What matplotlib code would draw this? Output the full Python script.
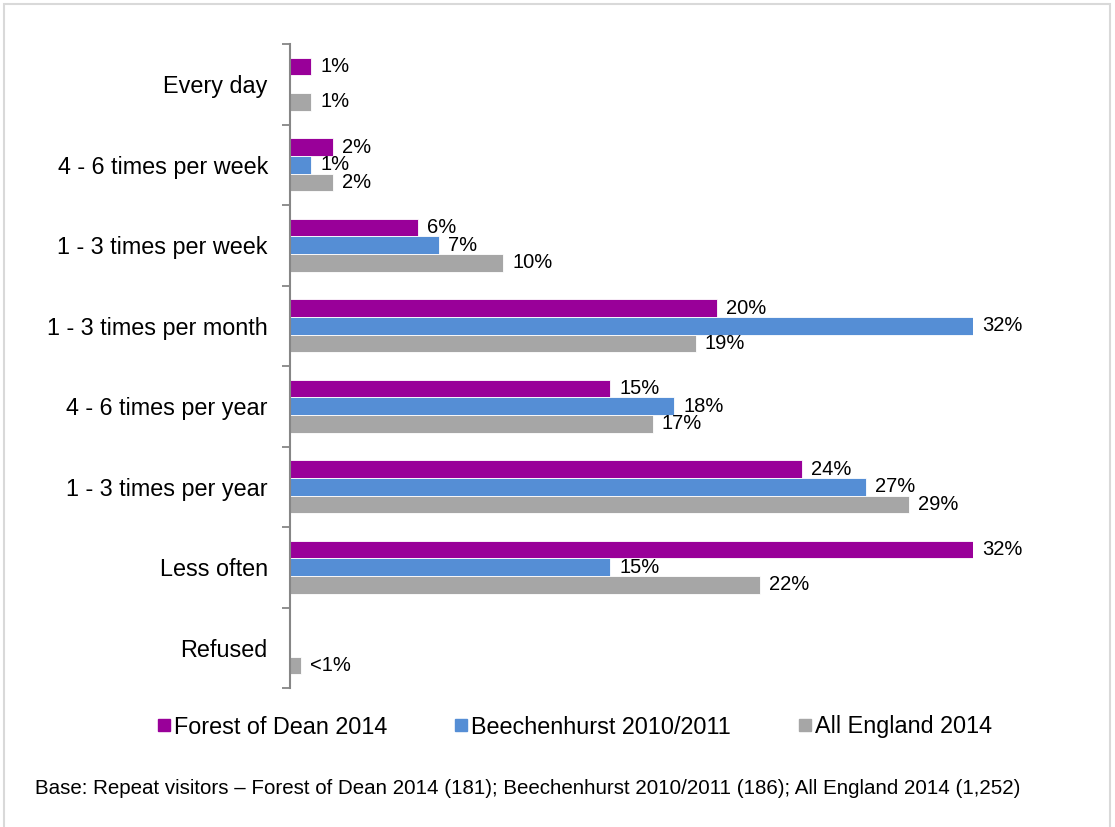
import numpy as np
import matplotlib.pyplot as plt
from matplotlib.lines import Line2D
from matplotlib.patches import Rectangle

plt.rcParams['font.family'] = ['Liberation Sans', 'DejaVu Sans']

# visit frequency categories, top to bottom
categories = ['Every day', '4 - 6 times per week', '1 - 3 times per week',
              '1 - 3 times per month', '4 - 6 times per year',
              '1 - 3 times per year', 'Less often', 'Refused']

# percentages (None = no response recorded for that group)
forest_2014 = [1, 2, 6, 20, 15, 24, 32, None]
beech_2010 = [None, 1, 7, 32, 18, 27, 15, None]
england_2014 = [1, 2, 10, 19, 17, 29, 22, 0.5]

# label text for each bar
forest_labels = ['1%', '2%', '6%', '20%', '15%', '24%', '32%', '']
beech_labels = ['', '1%', '7%', '32%', '18%', '27%', '15%', '']
england_labels = ['1%', '2%', '10%', '19%', '17%', '29%', '22%', '<1%']

series_names = ['Forest of Dean 2014', 'Beechenhurst 2010/2011', 'All England 2014']
colors = ['#990099', '#558ED5', '#A6A6A6']

fig = plt.figure(figsize=(11.15, 8.27), dpi=100)
ax = fig.add_axes([290 / 1115, 1 - 688 / 827, (973 - 290) / 1115, (688 - 44) / 827])

y = np.arange(len(categories))
bar_h = 0.22
offsets = [-0.22, 0.0, 0.22]

all_series = [forest_2014, beech_2010, england_2014]
all_labels = [forest_labels, beech_labels, england_labels]

for vals, labs, off, col in zip(all_series, all_labels, offsets, colors):
    for i, (v, lab) in enumerate(zip(vals, labs)):
        if v is None:
            continue
        ax.barh(y[i] + off, v, height=bar_h, color=col, edgecolor='white', linewidth=0.6)
        ax.text(v + 0.42, y[i] + off, lab, va='center', ha='left', fontsize=14.5,
                color='black', clip_on=False)

ax.set_xlim(0, 32)
ax.set_ylim(len(categories) - 0.5, -0.5)
ax.set_xticks([])

ax.set_yticks(y)
ax.set_yticklabels(categories, fontsize=16.8)
ax.tick_params(axis='y', which='major', length=0, pad=16)
ax.set_yticks(np.arange(len(categories) + 1) - 0.5, minor=True)
ax.tick_params(axis='y', which='minor', length=6, width=1.3, color='#868686', direction='out')

for side in ['top', 'right', 'bottom']:
    ax.spines[side].set_visible(False)
ax.spines['left'].set_color('#868686')
ax.spines['left'].set_linewidth(1.5)

# legend with square markers
handles = [Line2D([], [], marker='s', linestyle='none', markersize=9,
                  markerfacecolor=c, markeredgecolor=c) for c in colors]
fig.legend(handles, series_names, loc='center', bbox_to_anchor=(575 / 1115, 1 - 727 / 827),
           ncol=3, frameon=False, fontsize=16.8, handlelength=0.55, handletextpad=0.15,
           columnspacing=2.9)

fig.text(35 / 1115, 1 - 788 / 827,
         'Base: Repeat visitors \u2013 Forest of Dean 2014 (181); Beechenhurst 2010/2011 (186); All England 2014 (1,252)',
         fontsize=14.8, va='center', ha='left')

# thin outer frame
fig.patches.append(Rectangle((4 / 1115, -0.01), (1110 - 4) / 1115, 1.01 - 4 / 827,
                             transform=fig.transFigure, fill=False,
                             edgecolor='#D9D9D9', linewidth=1.5))

fig.savefig('out.png', dpi=100)
